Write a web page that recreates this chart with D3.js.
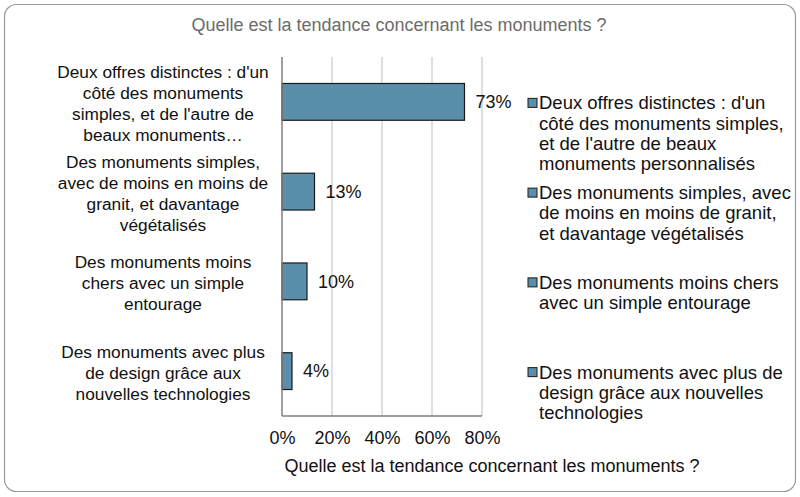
<!DOCTYPE html>
<html>
<head>
<meta charset="utf-8">
<script src="https://cdn.jsdelivr.net/npm/d3@7"></script>
<style>
  body { margin: 0; background: #fff; }
  text { font-family: "Liberation Sans", Arial, sans-serif; }
</style>
</head>
<body>
<svg id="chart" width="800" height="497"></svg>
<script>
"use strict";

// données
const chartTitle = "Quelle est la tendance concernant les monuments ?";
const axisTitle = "Quelle est la tendance concernant les monuments ?";
const categories = [
  "Deux offres distinctes : d'un côté des monuments simples, et de l'autre de beaux monuments personnalisés",
  "Des monuments simples, avec de moins en moins de granit, et davantage végétalisés",
  "Des monuments moins chers avec un simple entourage",
  "Des monuments avec plus de design grâce aux nouvelles technologies"
];
const values = [73, 13, 10, 4];
const tickValues = [0, 20, 40, 60, 80];
// libellés de l'axe vertical, coupés comme sur l'image
const axisLabels = [
  ["Deux offres distinctes : d'un", "côté des monuments", "simples, et de l'autre de", "beaux monuments…"],
  ["Des monuments simples,", "avec de moins en moins de", "granit, et davantage", "végétalisés"],
  ["Des monuments moins", "chers avec un simple", "entourage"],
  ["Des monuments avec plus", "de design grâce aux", "nouvelles technologies"]
];
// texte de la légende
const legendLabels = [
  ["Deux offres distinctes : d'un", "côté des monuments simples,", "et de l'autre de beaux", "monuments personnalisés"],
  ["Des monuments simples, avec", "de moins en moins de granit,", "et davantage végétalisés"],
  ["Des monuments moins chers", "avec un simple entourage"],
  ["Des monuments avec plus de", "design grâce aux nouvelles", "technologies"]
];

const barColor = "#5a8fab";
const svg = d3.select("#chart");

// cadre arrondi
svg.append("rect")
  .attr("x", 4.5).attr("y", 4.5)
  .attr("width", 791).attr("height", 487)
  .attr("rx", 12)
  .attr("fill", "white")
  .attr("stroke", "#9a9a9a")
  .attr("stroke-width", 1.2);

svg.append("text")
  .attr("x", 399).attr("y", 31)
  .attr("text-anchor", "middle")
  .attr("fill", "#6b6b6b")
  .style("font-size", "18px")
  .text(chartTitle);

const plot = { left: 282, right: 482, top: 57, bottom: 416 };

const x = d3.scaleLinear().domain([0, 80]).range([plot.left, plot.right]);
const y = d3.scaleBand().domain(d3.range(categories.length))
  .range([plot.top, plot.bottom]).paddingInner(0.59).paddingOuter(0.295);

// grille verticale
svg.append("g")
  .selectAll("line")
  .data(tickValues.slice(1))
  .enter()
  .append("line")
  .attr("x1", d => x(d)).attr("x2", d => x(d))
  .attr("y1", plot.top).attr("y2", plot.bottom)
  .attr("stroke", "#d4d4d4")
  .attr("stroke-width", 1.5);

// barres
svg.append("g")
  .selectAll("rect")
  .data(values)
  .enter()
  .append("rect")
  .attr("x", x(0))
  .attr("y", (d, i) => y(i))
  .attr("width", d => x(d) - x(0))
  .attr("height", y.bandwidth())
  .attr("fill", barColor)
  .attr("stroke", "#1a1a1a")
  .attr("stroke-width", 1.2);

// étiquettes de valeur
svg.append("g")
  .selectAll("text")
  .data(values)
  .enter()
  .append("text")
  .attr("x", d => x(d) + 11)
  .attr("y", (d, i) => y(i) + y.bandwidth() / 2)
  .attr("dy", "0.35em")
  .style("font-size", "18px")
  .attr("fill", "#111")
  .text(d => d + "%");

// axes
svg.append("line")
  .attr("x1", plot.left).attr("x2", plot.left)
  .attr("y1", plot.top).attr("y2", plot.bottom)
  .attr("stroke", "#7f7f7f").attr("stroke-width", 1.5);
svg.append("line")
  .attr("x1", plot.left).attr("x2", plot.right)
  .attr("y1", plot.bottom).attr("y2", plot.bottom)
  .attr("stroke", "#7f7f7f").attr("stroke-width", 1.5);

const xAxis = svg.append("g")
  .attr("transform", "translate(0," + plot.bottom + ")")
  .call(d3.axisBottom(x).tickValues(tickValues).tickSize(0).tickPadding(15)
    .tickFormat(d => d + "%"));
xAxis.select(".domain").remove();
xAxis.selectAll("text")
  .style("font-size", "18px")
  .style("font-family", "Liberation Sans, Arial, sans-serif")
  .attr("fill", "#111");

svg.append("text")
  .attr("x", 492).attr("y", 472)
  .attr("text-anchor", "middle")
  .style("font-size", "18px")
  .attr("fill", "#111")
  .text(axisTitle);

// libellés des catégories
const lineH = 21;
const catLabels = svg.append("g");
axisLabels.forEach(function(lines, i) {
  const cy = y(i) + y.bandwidth() / 2 + 2;
  const t = catLabels.append("text")
    .attr("text-anchor", "middle")
    .style("font-size", "17.3px")
    .attr("fill", "#111");
  lines.forEach(function(l, j) {
    t.append("tspan")
      .attr("x", 163)
      .attr("y", cy + (j - (lines.length - 1) / 2) * lineH)
      .attr("dy", "0.35em")
      .text(l);
  });
});

// légende
const legend = svg.append("g").attr("class", "legend");
legendLabels.forEach(function(lines, i) {
  const cy = y(i) + y.bandwidth() / 2 + 1;
  legend.append("rect")
    .attr("x", 528).attr("y", cy - 4.5)
    .attr("width", 9).attr("height", 9)
    .attr("fill", barColor)
    .attr("stroke", "#1a1a1a")
    .attr("stroke-width", 1);
  const t = legend.append("text")
    .style("font-size", "18.5px")
    .attr("fill", "#111");
  lines.forEach(function(l, j) {
    t.append("tspan")
      .attr("x", 539)
      .attr("y", cy + j * 20.3)
      .attr("dy", "0.35em")
      .text(l);
  });
});
</script>
</body>
</html>
